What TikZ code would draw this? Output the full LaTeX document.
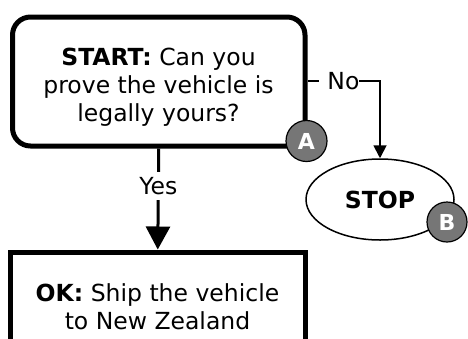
\documentclass[tikz,border=0pt]{standalone}
\usepackage{fontspec}
\setmainfont{DejaVu Sans}
\usetikzlibrary{shapes.geometric,arrows.meta}
\definecolor{badgegray}{HTML}{767676}
\tikzset{
  every node/.style={font=\fontsize{23.5}{28}\selectfont},
  bigbox/.style={draw, line width=5pt, align=center, inner sep=0pt},
  boxtext/.style={align=center, inner sep=0pt},
  badge/.style={circle, draw, line width=1.2pt, fill=badgegray, text=white, font=\fontsize{22}{26}\selectfont\bfseries, minimum size=41pt, inner sep=0pt},
  stopnode/.style={ellipse, draw, line width=1.5pt, minimum width=148pt, minimum height=81pt, inner sep=0pt, font=\fontsize{23.5}{28}\selectfont\bfseries},
  lbl/.style={fill=white, inner sep=0pt},
  yesline/.style={line width=3pt, -{Triangle[length=23pt,width=24pt]}},
  noline/.style={line width=1.8pt, -{Triangle[length=13pt,width=13pt]}}
}
\begin{document}
\begin{tikzpicture}[x=1pt,y=-1pt]
\useasboundingbox (0,0) rectangle (468,338);
\clip (0,0) rectangle (468,338);
\node[bigbox, rounded corners=18pt, minimum width=292.5pt, minimum height=129pt] (start) at (158.75,81.5) {};
\node[boxtext] (starttext) at (158.5,87)
  {\textbf{START:} Can you\\prove the vehicle is\\legally yours?};
\node[bigbox, minimum width=294.5pt, minimum height=104pt] (ok) at (157.75,304) {};
\node[boxtext] (oktext) at (157.5,307) {\textbf{OK:} Ship the vehicle\\to New Zealand};
\node[stopnode] (stop) at (380,199.5) {STOP};
\draw[yesline] (start.south) -- node[lbl, pos=0.37, inner ysep=5pt, inner xsep=2pt] (yes) {Yes} (ok.north);
\draw[noline] (start.east |- 0,81) -| node[lbl, pos=0.22, inner ysep=3pt] (no) {\hspace{8pt}No\hspace{2pt}} (stop.north);
\node[badge] (a) at (306.5,141) {A};
\node[badge, minimum size=40pt] (b) at (447,222) {B};
\end{tikzpicture}
\end{document}
